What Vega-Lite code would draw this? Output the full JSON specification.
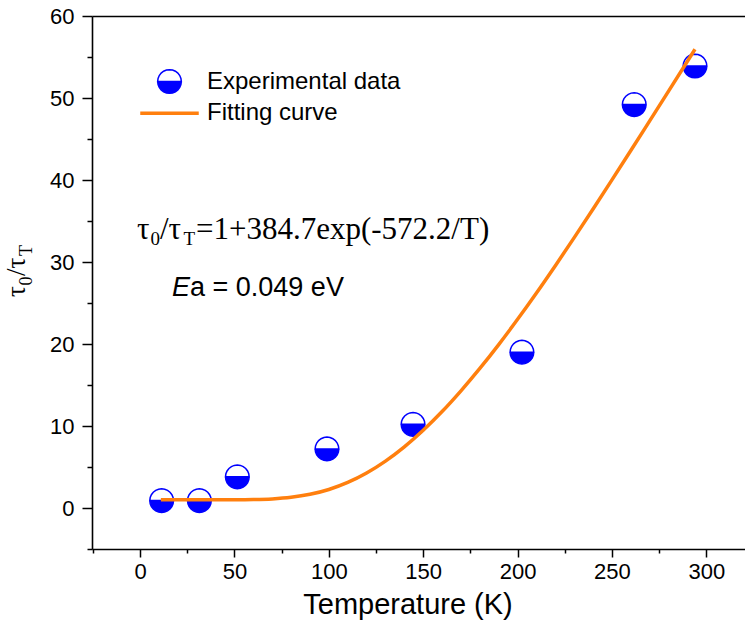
{
  "$schema": "https://vega.github.io/schema/vega-lite/v6.json",
  "width": 653,
  "height": 533,
  "autosize": {"type": "none"},
  "padding": {"left": 92, "top": 16, "right": 0, "bottom": 77},
  "background": "white",
  "config": {
    "view": {"stroke": null},
    "axis": {
      "grid": false,
      "domainColor": "black",
      "domainWidth": 1.6,
      "tickColor": "black",
      "tickWidth": 1.5,
      "labelColor": "black",
      "labelFont": "Liberation Sans",
      "labelFontSize": 22,
      "titleColor": "black"
    }
  },
  "datasets": {
    "pts": [
      {"T": 11.4, "r": 0.9, "series": "Experimental data"},
      {"T": 31.4, "r": 0.9, "series": "Experimental data"},
      {"T": 51.5, "r": 3.8, "series": "Experimental data"},
      {"T": 99.0, "r": 7.2, "series": "Experimental data"},
      {"T": 144.6, "r": 10.2, "series": "Experimental data"},
      {"T": 202.3, "r": 19.0, "series": "Experimental data"},
      {"T": 261.8, "r": 49.2, "series": "Experimental data"},
      {"T": 294.0, "r": 53.9, "series": "Experimental data"}
    ],
    "fit": [
      {"T": 11, "r": 1.0, "series": "Fitting curve"},
      {"T": 20, "r": 1.0, "series": "Fitting curve"},
      {"T": 30, "r": 1.0, "series": "Fitting curve"},
      {"T": 40, "r": 1.0002, "series": "Fitting curve"},
      {"T": 50, "r": 1.004, "series": "Fitting curve"},
      {"T": 60, "r": 1.028, "series": "Fitting curve"},
      {"T": 70, "r": 1.108, "series": "Fitting curve"},
      {"T": 80, "r": 1.301, "series": "Fitting curve"},
      {"T": 90, "r": 1.667, "series": "Fitting curve"},
      {"T": 100, "r": 2.259, "series": "Fitting curve"},
      {"T": 110, "r": 3.118, "series": "Fitting curve"},
      {"T": 120, "r": 4.268, "series": "Fitting curve"},
      {"T": 130, "r": 5.716, "series": "Fitting curve"},
      {"T": 140, "r": 7.458, "series": "Fitting curve"},
      {"T": 150, "r": 9.48, "series": "Fitting curve"},
      {"T": 160, "r": 11.76, "series": "Fitting curve"},
      {"T": 170, "r": 14.29, "series": "Fitting curve"},
      {"T": 180, "r": 17.02, "series": "Fitting curve"},
      {"T": 190, "r": 19.93, "series": "Fitting curve"},
      {"T": 200, "r": 23.01, "series": "Fitting curve"},
      {"T": 210, "r": 26.22, "series": "Fitting curve"},
      {"T": 220, "r": 29.55, "series": "Fitting curve"},
      {"T": 230, "r": 32.97, "series": "Fitting curve"},
      {"T": 240, "r": 36.46, "series": "Fitting curve"},
      {"T": 250, "r": 40.01, "series": "Fitting curve"},
      {"T": 260, "r": 43.59, "series": "Fitting curve"},
      {"T": 270, "r": 47.21, "series": "Fitting curve"},
      {"T": 280, "r": 50.84, "series": "Fitting curve"},
      {"T": 290, "r": 54.48, "series": "Fitting curve"},
      {"T": 294, "r": 55.94, "series": "Fitting curve"}
    ]
  },
  "resolve": {"axis": {"x": "independent", "y": "independent"}},
  "layer": [
    {
      "data": {"name": "pts"},
      "mark": {"type": "point", "opacity": 0},
      "encoding": {
        "x": {"field": "T", "type": "quantitative", "scale": {"domain": [-25.5, 320.5], "nice": false, "zero": false},
          "axis": {"orient": "top", "ticks": false, "labels": false, "title": null, "domain": true}},
        "y": {"field": "r", "type": "quantitative", "scale": {"domain": [-5, 60], "nice": false, "zero": false}, "axis": null}
      }
    },
    {
      "data": {"name": "pts"},
      "mark": {
        "type": "point",
        "filled": true,
        "opacity": 1,
        "size": 560,
        "stroke": "#0000FF",
        "strokeWidth": 1.5,
        "shape": "M1,0L0.966,0.259L0.866,0.5L0.707,0.707L0.5,0.866L0.259,0.966L0,1L-0.259,0.966L-0.5,0.866L-0.707,0.707L-0.866,0.5L-0.966,0.259L-1,0L-0.966,-0.259L-0.866,-0.5L-0.707,-0.707L-0.5,-0.866L-0.259,-0.966L0,-1L0.259,-0.966L0.5,-0.866L0.707,-0.707L0.866,-0.5L0.966,-0.259ZM1,0L0.966,-0.259L0.866,-0.5L0.707,-0.707L0.5,-0.866L0.259,-0.966L0,-1L-0.259,-0.966L-0.5,-0.866L-0.707,-0.707L-0.866,-0.5L-0.966,-0.259L-1,0Z"
      },
      "encoding": {
        "x": {"field": "T", "type": "quantitative",
          "axis": {"orient": "bottom", "values": [-25, 25, 75, 125, 175, 225, 275], "tickSize": 4, "labels": false, "domain": false, "title": null}},
        "y": {"field": "r", "type": "quantitative",
          "axis": {"orient": "left", "values": [-5, 5, 15, 25, 35, 45, 55], "tickSize": 5, "labels": false, "domain": false, "title": null}},
        "color": {"field": "series", "type": "nominal"}
      }
    },
    {
      "data": {"name": "fit"},
      "mark": {"type": "line", "strokeWidth": 3.5, "interpolate": "monotone"},
      "encoding": {
        "x": {"field": "T", "type": "quantitative",
          "axis": {"orient": "bottom", "values": [0, 50, 100, 150, 200, 250, 300], "tickSize": 8, "labelPadding": 4,
            "title": "Temperature (K)", "titleFont": "Liberation Sans", "titleFontSize": 29, "titleFontWeight": "normal",
            "titleX": 315.5, "titleY": 64, "titleAlign": "center", "titleBaseline": "alphabetic", "titleAnchor": null}},
        "y": {"field": "r", "type": "quantitative",
          "axis": {"orient": "left", "values": [0, 10, 20, 30, 40, 50, 60], "tickSize": 10, "labelPadding": 8, "title": null}},
        "color": {
          "field": "series", "type": "nominal",
          "scale": {"domain": ["Experimental data", "Fitting curve"], "range": ["#0000FF", "#FF7F0E"]},
          "legend": {
            "orient": "none", "legendX": 65.5, "legendY": 53.5, "title": null, "padding": 0,
            "labelFont": "Liberation Sans", "labelFontSize": 24, "labelColor": "black", "labelOffset": 25.5, "labelLimit": 500,
            "symbolSize": 560, "symbolStrokeWidth": 1.5, "rowPadding": 4.7,
            "encode": {"symbols": {"update": {
              "shape": {"signal": "datum.value === 'Fitting curve' ? 'stroke' : 'M1,0L0.966,0.259L0.866,0.5L0.707,0.707L0.5,0.866L0.259,0.966L0,1L-0.259,0.966L-0.5,0.866L-0.707,0.707L-0.866,0.5L-0.966,0.259L-1,0L-0.966,-0.259L-0.866,-0.5L-0.707,-0.707L-0.5,-0.866L-0.259,-0.966L0,-1L0.259,-0.966L0.5,-0.866L0.707,-0.707L0.866,-0.5L0.966,-0.259ZM1,0L0.966,-0.259L0.866,-0.5L0.707,-0.707L0.5,-0.866L0.259,-0.966L0,-1L-0.259,-0.966L-0.5,-0.866L-0.707,-0.707L-0.866,-0.5L-0.966,-0.259L-1,0Z'"},
              "size": {"signal": "datum.value === 'Fitting curve' ? 3422 : 560"},
              "fill": {"signal": "datum.value === 'Fitting curve' ? 'transparent' : '#0000FF'"},
              "stroke": {"signal": "datum.value === 'Fitting curve' ? '#FF7F0E' : '#0000FF'"},
              "strokeWidth": {"signal": "datum.value === 'Fitting curve' ? 3.5 : 1.5"},
              "opacity": {"value": 1}
            }}}
          }
        }
      }
    },
    {
      "data": {"values": [{}]},
      "mark": {"type": "text", "text": "τ", "font": "Liberation Serif", "fontSize": 31, "align": "left", "baseline": "alphabetic", "color": "black"},
      "encoding": {"x": {"datum": -1.66, "type": "quantitative", "axis": null}, "y": {"datum": 32.8, "type": "quantitative", "axis": null}}
    },
    {
      "data": {"values": [{}]},
      "mark": {"type": "text", "text": "0", "font": "Liberation Serif", "fontSize": 19, "align": "left", "baseline": "alphabetic", "dx": 13.5, "dy": 6, "color": "black"},
      "encoding": {"x": {"datum": -1.66, "type": "quantitative", "axis": null}, "y": {"datum": 32.8, "type": "quantitative", "axis": null}}
    },
    {
      "data": {"values": [{}]},
      "mark": {"type": "text", "text": "/τ", "font": "Liberation Serif", "fontSize": 31, "align": "left", "baseline": "alphabetic", "dx": 23, "color": "black"},
      "encoding": {"x": {"datum": -1.66, "type": "quantitative", "axis": null}, "y": {"datum": 32.8, "type": "quantitative", "axis": null}}
    },
    {
      "data": {"values": [{}]},
      "mark": {"type": "text", "text": "T", "font": "Liberation Serif", "fontSize": 19, "align": "left", "baseline": "alphabetic", "dx": 46.5, "dy": 6, "color": "black"},
      "encoding": {"x": {"datum": -1.66, "type": "quantitative", "axis": null}, "y": {"datum": 32.8, "type": "quantitative", "axis": null}}
    },
    {
      "data": {"values": [{}]},
      "mark": {"type": "text", "text": "=1+384.7exp(-572.2/T)", "font": "Liberation Serif", "fontSize": 31, "align": "left", "baseline": "alphabetic", "dx": 59, "color": "black"},
      "encoding": {"x": {"datum": -1.66, "type": "quantitative", "axis": null}, "y": {"datum": 32.8, "type": "quantitative", "axis": null}}
    },
    {
      "data": {"values": [{}]},
      "mark": {"type": "text", "text": "E", "font": "Liberation Sans", "fontStyle": "italic", "fontSize": 27, "align": "left", "baseline": "alphabetic", "color": "black"},
      "encoding": {"x": {"datum": 16.9, "type": "quantitative", "axis": null}, "y": {"datum": 25.9, "type": "quantitative", "axis": null}}
    },
    {
      "data": {"values": [{}]},
      "mark": {"type": "text", "text": "a = 0.049 eV", "font": "Liberation Sans", "fontSize": 27, "align": "left", "baseline": "alphabetic", "dx": 18, "color": "black"},
      "encoding": {"x": {"datum": 16.9, "type": "quantitative", "axis": null}, "y": {"datum": 25.9, "type": "quantitative", "axis": null}}
    },
    {
      "data": {"values": [{}]},
      "mark": {"type": "text", "text": "τ", "font": "Liberation Serif", "fontSize": 27, "angle": 270, "align": "left", "baseline": "alphabetic", "color": "black"},
      "encoding": {"x": {"datum": -60.8, "type": "quantitative", "axis": null}, "y": {"datum": 25.73, "type": "quantitative", "axis": null}}
    },
    {
      "data": {"values": [{}]},
      "mark": {"type": "text", "text": "0", "font": "Liberation Serif", "fontSize": 18, "angle": 270, "align": "left", "baseline": "alphabetic", "dx": 11.5, "dy": 7, "color": "black"},
      "encoding": {"x": {"datum": -60.8, "type": "quantitative", "axis": null}, "y": {"datum": 25.73, "type": "quantitative", "axis": null}}
    },
    {
      "data": {"values": [{}]},
      "mark": {"type": "text", "text": "/τ", "font": "Liberation Serif", "fontSize": 27, "angle": 270, "align": "left", "baseline": "alphabetic", "dx": 21, "color": "black"},
      "encoding": {"x": {"datum": -60.8, "type": "quantitative", "axis": null}, "y": {"datum": 25.73, "type": "quantitative", "axis": null}}
    },
    {
      "data": {"values": [{}]},
      "mark": {"type": "text", "text": "T", "font": "Liberation Serif", "fontSize": 18, "angle": 270, "align": "left", "baseline": "alphabetic", "dx": 41, "dy": 7, "color": "black"},
      "encoding": {"x": {"datum": -60.8, "type": "quantitative", "axis": null}, "y": {"datum": 25.73, "type": "quantitative", "axis": null}}
    }
  ]
}
